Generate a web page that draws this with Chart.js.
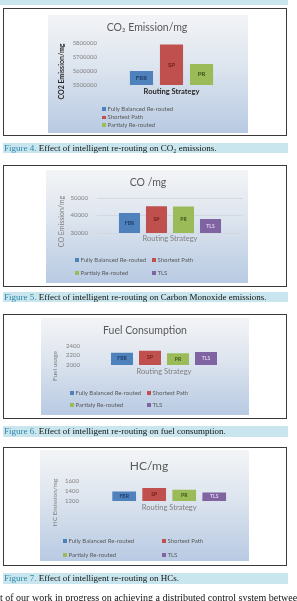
<!DOCTYPE html>
<html>
<head>
<meta charset="utf-8">
<script src="https://cdn.jsdelivr.net/npm/chart.js@4.4.1/dist/chart.umd.min.js"></script>
<style>
  html, body { margin: 0; padding: 0; background: #fff; }
  body { width: 297px; height: 601px; position: relative; overflow: hidden; font-family: Lato, sans-serif; }
  .strip { position: absolute; left: 0; top: 0; width: 288px; height: 5px; background: #c9e6ee; }
  .box { position: absolute; left: 3px; width: 284px; border: 1px solid #3a3a3a; box-sizing: border-box; background: #fff; }
  .panel { position: absolute; background: linear-gradient(to bottom, #f3f4f6 0%, #dfe6ef 40%, #b8cae3 100%); }
  .panel canvas { position: absolute; left: 0; top: 0; }
  .caption { position: absolute; left: 3px; width: 285px; background: #c9e6ee; font-family: 'Liberation Serif', serif;
             font-size: 9px; color: #111; white-space: nowrap; padding-left: 1px; box-sizing: border-box; }
  .caption span { color: #2f86ab; }
  .legend-item { position: absolute; font-size: 6px; line-height: 7px; color: #595959; white-space: nowrap; }
  .legend-item i { display: inline-block; width: 3.5px; height: 3.5px; margin-right: 2px; vertical-align: 0; }
  .bodytext { position: absolute; left: 0; top: 592px; font-family: 'Liberation Serif', serif; font-size: 10px; color: #111; white-space: nowrap; }
</style>
</head>
<body>
<div class="strip"></div>

<div class="box" style="top:8px;height:128px"></div>
<div class="panel" id="panel1" style="left:48px;top:15px;width:200px;height:118px"><canvas id="co2Chart" width="200" height="118"></canvas></div>
<div class="caption" style="top:143px;height:10px;line-height:10px"><span>Figure 4.</span> Effect of intelligent re-routing on CO₂ emissions.</div>

<div class="box" style="top:165px;height:122px"></div>
<div class="panel" id="panel2" style="left:46px;top:170px;width:202px;height:113px"><canvas id="coChart" width="202" height="113"></canvas></div>
<div class="caption" style="top:292px;height:10px;line-height:10px"><span>Figure 5.</span> Effect of intelligent re-routing on Carbon Monoxide emissions.</div>

<div class="box" style="top:314px;height:105px"></div>
<div class="panel" id="panel3" style="left:41px;top:318px;width:208px;height:97px"><canvas id="fuelChart" width="208" height="97"></canvas></div>
<div class="caption" style="top:426px;height:11px;line-height:11px"><span>Figure 6.</span> Effect of intelligent re-routing on fuel consumption.</div>

<div class="box" style="top:447px;height:119px"></div>
<div class="panel" id="panel4" style="left:40px;top:450px;width:209px;height:111px"><canvas id="hcChart" width="209" height="111"></canvas></div>
<div class="caption" style="top:573px;height:11px;line-height:11px"><span>Figure 7.</span> Effect of intelligent re-routing on HCs.</div>

<div class="bodytext">t of our work in progress on achieving a distributed control system between</div>

<script>
// Routing strategies (one dataset per strategy)
const strategyNames = ['Fully Balanced Re-routed', 'Shortest Path', 'Partialy Re-routed', 'TLS'];
const strategyCodes = ['FBR', 'SP', 'PR', 'TLS'];
const strategyColors = ['#4f81bd', '#c0504d', '#9bbb59', '#8064a2'];
const codeColors = ['#1f3b66', '#6e1c1a', '#3f5119', '#ddd0ee'];

// Values
const co2Values = [5600000, 5790000, 5650000];
const coValues = [41500, 45300, 45200, 38000];
const fuelValues = [2260, 2300, 2245, 2275];
const hcValues = [1390, 1460, 1425, 1370];

// Y axis tick labels
const co2Ticks = [5500000, 5600000, 5700000, 5800000];
const coTicks = [30000, 40000, 50000];
const fuelTicks = [2000, 2200, 2400];
const hcTicks = [1200, 1400, 1600];

// Short code written inside each bar
const barCodePlugin = {
    id: 'barCodes',
    afterDatasetsDraw(chart, args, opts) {
        const ctx = chart.ctx;
        const bottom = chart.chartArea.bottom;
        ctx.save();
        ctx.font = 'bold ' + opts.size + 'px Lato';
        ctx.textAlign = 'center';
        ctx.textBaseline = 'middle';
        chart.data.datasets.forEach((ds, i) => {
            const bar = chart.getDatasetMeta(i).data[0];
            // bars are clipped at the axis minimum, so centre on the visible part
            const base = Math.min(bar.base, bottom);
            ctx.fillStyle = codeColors[i];
            ctx.fillText(strategyCodes[i], bar.x, (bar.y + base) / 2);
        });
        ctx.restore();
    }
};

// Rotated y axis title, placed like the Excel original
const sideTitlePlugin = {
    id: 'sideTitle',
    afterDraw(chart, args, opts) {
        const ctx = chart.ctx;
        ctx.save();
        ctx.translate(opts.x, opts.y);
        ctx.rotate(-Math.PI / 2);
        ctx.font = opts.weight + ' ' + opts.size + 'px Lato';
        ctx.fillStyle = opts.color;
        ctx.textAlign = 'center';
        ctx.textBaseline = 'middle';
        ctx.fillText(opts.text, 0, 0);
        ctx.restore();
    }
};

function createStrategyChart(canvasId, values, ticks, cfg) {
    const canvas = document.getElementById(canvasId);
    const chart = new Chart(canvas, {
        type: 'bar',
        data: {
            labels: [''],
            datasets: values.map((v, i) => ({
                label: strategyNames[i],
                data: [v],
                backgroundColor: strategyColors[i],
                borderWidth: 0,
                categoryPercentage: cfg.catPct,
                barPercentage: cfg.barPct
            }))
        },
        options: {
            responsive: false,
            animation: false,
            layout: { padding: cfg.padding },
            plugins: {
                legend: { display: false },
                tooltip: { enabled: false },
                title: {
                    display: true,
                    text: cfg.title,
                    color: '#595959',
                    font: { family: 'Lato', size: cfg.titleSize, weight: 'normal' },
                    padding: cfg.titlePadding
                },
                barCodes: { size: cfg.codeSize },
                sideTitle: cfg.yTitle
            },
            scales: {
                x: {
                    grid: { display: false, drawTicks: false },
                    border: { display: false },
                    ticks: { display: false },
                    title: {
                        display: true,
                        text: 'Routing Strategy',
                        color: cfg.xTitleColor,
                        font: { family: 'Lato', size: 7.5, weight: cfg.xTitleWeight },
                        padding: { top: 0, bottom: 2.5 }
                    },
                    afterFit: s => { s.height = cfg.xAxisHeight; }
                },
                y: {
                    min: ticks[0],
                    max: ticks[ticks.length - 1],
                    afterBuildTicks: s => { s.ticks = ticks.map(v => ({ value: v })); },
                    grid: { display: cfg.grid, color: '#d3d9e2', drawTicks: false },
                    border: { display: false },
                    ticks: {
                        autoSkip: false,
                        color: '#7f7f7f',
                        font: { family: 'Lato', size: 6 },
                        padding: cfg.tickPad,
                        callback: v => String(v)
                    },
                    afterFit: s => { s.width = cfg.yAxisWidth; }
                }
            }
        },
        plugins: [barCodePlugin, sideTitlePlugin]
    });
    buildLegend(canvas.parentNode, chart, cfg.legendCols, cfg.legendRows);
    return chart;
}

// HTML legend laid out in columns like the original
function buildLegend(panel, chart, cols, rows) {
    chart.data.datasets.forEach((ds, i) => {
        const col = cols.length === 1 ? 0 : i % cols.length;
        const row = cols.length === 1 ? i : Math.floor(i / cols.length);
        const item = document.createElement('div');
        item.className = 'legend-item';
        item.style.left = cols[col] + 'px';
        item.style.top = (rows[row] - 3.5) + 'px';
        item.innerHTML = '<i style="background:' + ds.backgroundColor + '"></i>' + ds.label;
        panel.appendChild(item);
    });
}

// Figure 4: CO2
createStrategyChart('co2Chart', co2Values, co2Ticks, {
    title: 'CO₂ Emission/mg', titleSize: 10.5, titlePadding: { top: 6.7, bottom: 8.7 },
    padding: { left: 3, right: 5, top: 0, bottom: 34 },
    yAxisWidth: 49, tickPad: 3, xAxisHeight: 14, grid: false,
    catPct: 0.63, barPct: 0.77, codeSize: 6,
    xTitleColor: '#262626', xTitleWeight: 'bold',
    yTitle: { text: 'CO2 Emission/mg', x: 14, y: 56.5, size: 7, weight: 'bold', color: '#262626' },
    legendCols: [54], legendRows: [93.3, 101.5, 109.3]
});

// Figure 5: CO
createStrategyChart('coChart', coValues, coTicks, {
    title: 'CO /mg', titleSize: 10.5, titlePadding: { top: 6.7, bottom: 8.7 },
    padding: { left: 7, right: 5, top: 0, bottom: 37 },
    yAxisWidth: 44, tickPad: 9, xAxisHeight: 13, grid: true,
    catPct: 0.74, barPct: 0.78, codeSize: 5,
    xTitleColor: '#7f7f7f', xTitleWeight: 'normal',
    yTitle: { text: 'CO Emission/mg', x: 16, y: 51.5, size: 7, weight: 'normal', color: '#7f7f7f' },
    legendCols: [29, 106], legendRows: [89, 102]
});

// Figure 6: fuel
createStrategyChart('fuelChart', fuelValues, fuelTicks, {
    title: 'Fuel Consumption', titleSize: 10.5, titlePadding: { top: 6.7, bottom: 8.7 },
    padding: { left: 5, right: 5, top: 0, bottom: 36 },
    yAxisWidth: 38, tickPad: 4, xAxisHeight: 14, grid: false,
    catPct: 0.70, barPct: 0.786, codeSize: 5,
    xTitleColor: '#7f7f7f', xTitleWeight: 'normal',
    yTitle: { text: 'Fuel usage', x: 14, y: 48, size: 6.5, weight: 'normal', color: '#7f7f7f' },
    legendCols: [29, 106], legendRows: [74, 86]
});

// Figure 7: HC
createStrategyChart('hcChart', hcValues, hcTicks, {
    title: 'HC/mg', titleSize: 12, titlePadding: { top: 8.8, bottom: 7.8 },
    padding: { left: 9.6, right: 0.6, top: 0, bottom: 46 },
    yAxisWidth: 40.4, tickPad: 11, xAxisHeight: 14, grid: false,
    catPct: 0.758, barPct: 0.79, codeSize: 5,
    xTitleColor: '#7f7f7f', xTitleWeight: 'normal',
    yTitle: { text: 'HC Emission/mg', x: 15, y: 52.5, size: 6.5, weight: 'normal', color: '#7f7f7f' },
    legendCols: [23, 122], legendRows: [90, 104]
});
</script>
</body>
</html>
